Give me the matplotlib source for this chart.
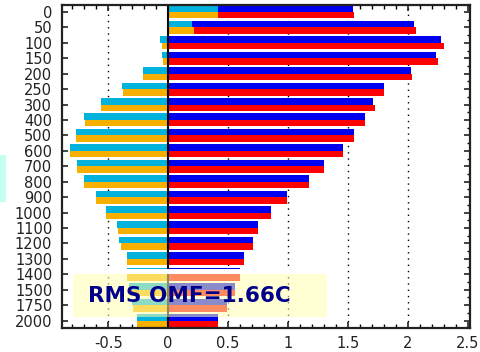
import matplotlib
matplotlib.use("Agg")
import matplotlib.pyplot as plt
from matplotlib.ticker import MultipleLocator, FixedLocator
from matplotlib.patches import Rectangle
import numpy as np

levels = ["0", "50", "100", "150", "200", "250", "300", "400", "500", "600",
          "700", "800", "900", "1000", "1100", "1200", "1300", "1400", "1500",
          "1750", "2000"]
blue_vals = [1.54, 2.05, 2.28, 2.24, 2.025, 1.80, 1.71, 1.64, 1.553, 1.456,
             1.30, 1.175, 0.99, 0.86, 0.75, 0.705, 0.63, 0.60, 0.56, 0.49, 0.42]
red_vals = [1.556, 2.07, 2.30, 2.25, 2.04, 1.80, 1.73, 1.64, 1.553, 1.456,
            1.30, 1.175, 0.99, 0.86, 0.75, 0.705, 0.63, 0.60, 0.56, 0.49, 0.42]
cyan_vals = [0.415, 0.20, -0.065, -0.048, -0.207, -0.388, -0.56, -0.70, -0.77, -0.817,
             -0.76, -0.705, -0.60, -0.52, -0.43, -0.41, -0.346, -0.346, -0.33, -0.30, -0.26]
orange_vals = [0.42, 0.22, -0.05, -0.042, -0.207, -0.374, -0.56, -0.69, -0.77, -0.817,
               -0.76, -0.70, -0.60, -0.52, -0.42, -0.39, -0.346, -0.346, -0.32, -0.29, -0.26]
rms_text = "RMS OMF=1.66C"

fig = plt.figure(figsize=(4.81, 3.52), dpi=100)
ax = fig.add_axes([62/481, 24/352, 408/481, 323/352])

pos = np.arange(len(levels))
h = 0.42
ax.barh(pos - h/2, blue_vals, height=h, color="#0000f0", zorder=2, linewidth=0)
ax.barh(pos + h/2, red_vals, height=h, color="#ff0000", zorder=2, linewidth=0)
ax.barh(pos - h/2, cyan_vals, height=h, color="#00b2dc", zorder=3, linewidth=0)
ax.barh(pos + h/2, orange_vals, height=h, color="#f8b000", zorder=3, linewidth=0)

ax.axvline(0, color="black", lw=1.5, zorder=4)
for g in [-0.5, 0.5, 1.0, 1.5, 2.0]:
    ax.axvline(g, color="black", lw=1.0, linestyle=(0, (1, 3.5)), zorder=1)

ax.set_xlim(-0.885, 2.52)
ax.set_ylim(20.486, -0.454)

ax.set_yticks(pos)
ax.set_yticklabels(levels)
ax.yaxis.set_minor_locator(FixedLocator(pos[:-1] + 0.5))
ax.xaxis.set_minor_locator(MultipleLocator(0.1))
ax.set_xticks([-0.5, 0, 0.5, 1, 1.5, 2, 2.5])
ax.set_xticklabels(["-0.5", "0", "0.5", "1", "1.5", "2", "2.5"])

ax.tick_params(axis="both", which="major", direction="in", length=4, width=1.2,
               labelsize=10.5, colors="#222222")
ax.tick_params(axis="x", which="major", top=True, pad=5.5)
ax.tick_params(axis="x", which="minor", direction="in", length=3, width=1.0,
               top=True, bottom=True)
ax.tick_params(axis="y", which="major", left=True, right=True, pad=7)
ax.tick_params(axis="y", which="minor", direction="in", length=2.5, width=1.0,
               left=False, right=True)
for s in ax.spines.values():
    s.set_linewidth(1.6)
    s.set_color("#222222")
    s.set_zorder(6)

# annotation box
ax.add_patch(Rectangle((0.027, 0.167), 0.623, 0.016, transform=ax.transAxes,
                       facecolor="white", edgecolor="none", zorder=5))
ax.add_patch(Rectangle((0.027, 0.034), 0.623, 0.133, transform=ax.transAxes,
                       facecolor="#ffffb0", edgecolor="none", alpha=0.55, zorder=5))
ax.text(0.311, 0.099, rms_text, transform=ax.transAxes, ha="center", va="center",
        fontsize=15.5, fontweight="bold", color="#00008c", zorder=7)

# light cyan fragment at left edge
fig.patches.append(Rectangle((0, 150/352), 6/481, 47/352, transform=fig.transFigure,
                             facecolor="#c4fff0", edgecolor="none"))

fig.savefig("out.png", dpi=100)
